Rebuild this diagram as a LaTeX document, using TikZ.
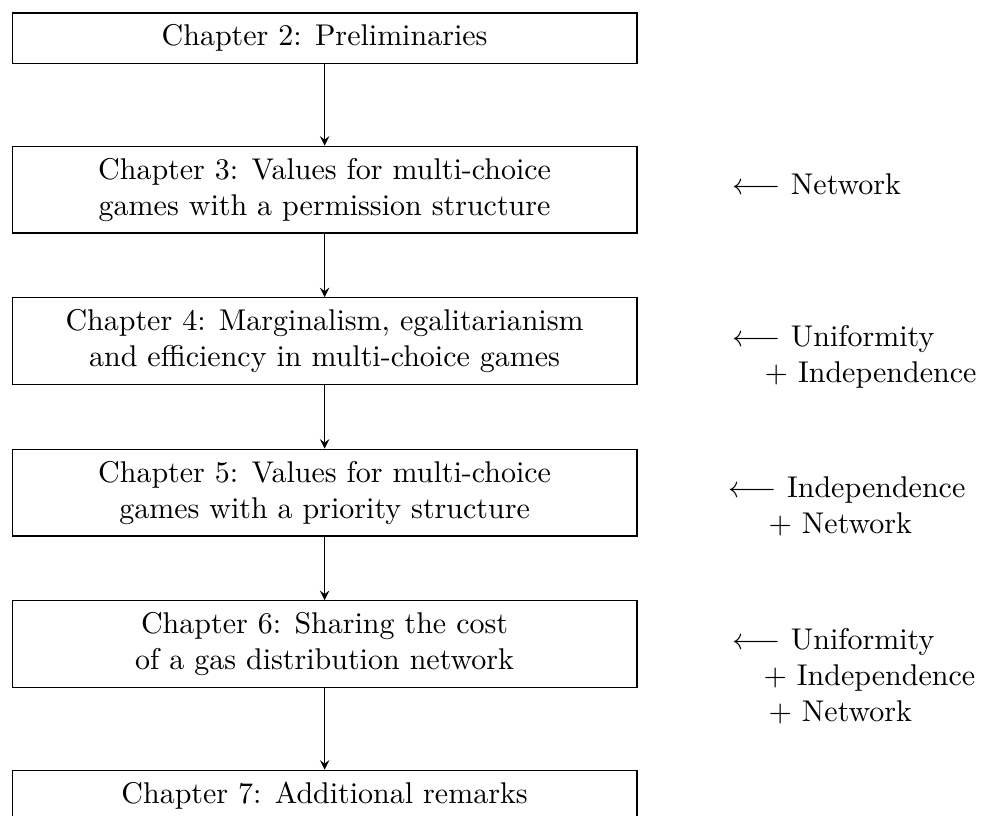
\documentclass[tikz,border=0pt]{standalone}
\usepackage{amsmath}
\usepackage{tikz}

\begin{document}
\begin{tikzpicture}[>=stealth, x=1pt, y=1pt,
    chapbox/.style={draw, minimum width=208.3pt, inner xsep=3pt, inner ysep=3.9pt, align=center},
    sidenote/.style={anchor=north west, inner sep=0pt, align=left}]
  \useasboundingbox (-108.2,12.7) rectangle (219.8,-259);

  \node[chapbox] (c2) at (0,0) {Chapter 2: Preliminaries};
  \node[chapbox] (c3) at (0,-50.5) {Chapter 3: Values for multi-choice\\games with a permission structure};
  \node[chapbox] (c4) at (0,-101) {Chapter 4: Marginalism, egalitarianism\\and efficiency in multi-choice games};
  \node[chapbox] (c5) at (0,-151.5) {Chapter 5: Values for multi-choice\\games with a priority structure};
  \node[chapbox] (c6) at (0,-202) {Chapter 6: Sharing the cost\\of a gas distribution network};
  \node[chapbox] (c7) at (0,-252.5) {Chapter 7: Additional remarks};

  \draw[->] (c2.south) -- (c3.north);
  \draw[->] (c3.south) -- (c4.north);
  \draw[->] (c4.south) -- (c5.north);
  \draw[->] (c5.south) -- (c6.north);
  \draw[->] (c6.south) -- (c7.north);

  \node[sidenote] (n3) at (135.8,-45.1) {$\longleftarrow$ Network};
  \node[sidenote] (n4) at (135.8,-95.6) {$\longleftarrow$ Uniformity\\\hspace*{10.7pt}$+$ Independence};
  \node[sidenote] (n5) at (134.5,-146.1) {$\longleftarrow$ Independence\\\hspace*{13.3pt}$+$ Network};
  \node[sidenote] (n6) at (135.8,-196.6) {$\longleftarrow$ Uniformity\\\hspace*{10.3pt}$+$ Independence\\\hspace*{12pt}$+$ Network};
\end{tikzpicture}
\end{document}
